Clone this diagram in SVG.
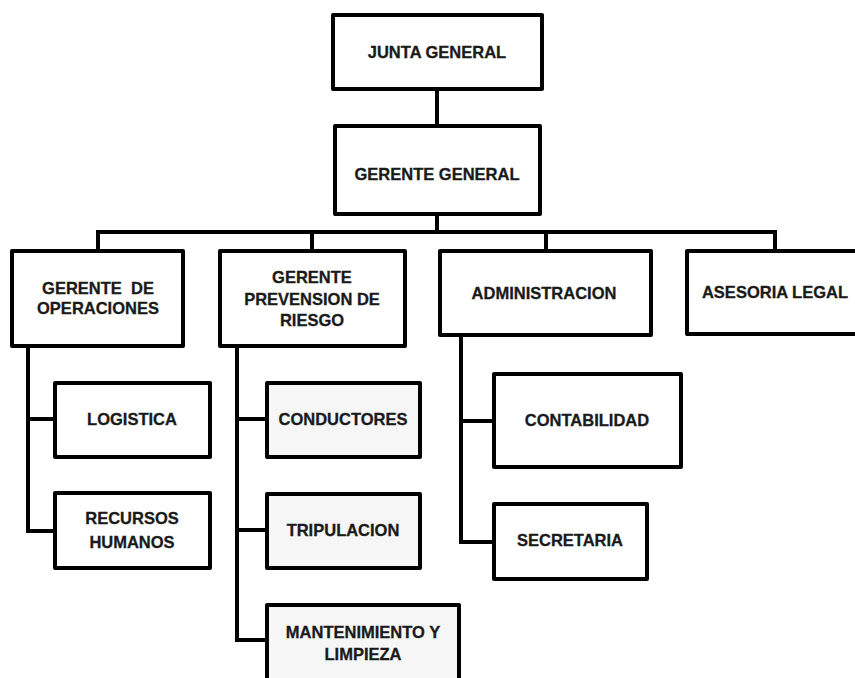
<svg xmlns="http://www.w3.org/2000/svg" width="855" height="678" viewBox="0 0 855 678">
<style>
.box{fill:#ffffff;stroke:#000;stroke-width:4;stroke-linejoin:round}
.gray{fill:#f6f6f6}
.t{font-family:"Liberation Sans",Arial,sans-serif;font-weight:bold;font-size:16.5px;fill:#1a1a1a;stroke:#1a1a1a;stroke-width:0.3;text-anchor:middle;dominant-baseline:central}
.c{fill:none;stroke:#000;stroke-width:4;stroke-linejoin:miter}
</style>
<rect width="855" height="678" fill="#ffffff"/>
<g id="connectors">
<path class="c" d="M437,89 V126"/>
<path class="c" d="M437,214 V232"/>
<path class="c" d="M98,251 V232 H775 V251"/>
<path class="c" d="M312,232 V251"/>
<path class="c" d="M546,232 V251"/>
<path class="c" d="M28,346 V531 H55 M28,419 H55"/>
<path class="c" d="M237,346 V640 H267 M237,419 H267 M237,530 H267"/>
<path class="c" d="M461,335 V542 H494 M461,421 H494"/>
</g>
<g id="junta">
<rect class="box" x="333" y="15" width="209" height="74"/>
<text class="t" x="437" y="52">JUNTA GENERAL</text>
</g>
<g id="gerente-general">
<rect class="box" x="335" y="126" width="205" height="88"/>
<text class="t" x="437" y="174">GERENTE GENERAL</text>
</g>
<g id="gerente-operaciones">
<rect class="box" x="12" y="251" width="171" height="95"/>
<text class="t" x="98" y="288" xml:space="preserve">GERENTE  DE</text>
<text class="t" x="98" y="308">OPERACIONES</text>
</g>
<g id="gerente-prevension">
<rect class="box" x="220" y="251" width="185" height="95"/>
<text class="t" x="312" y="277">GERENTE</text>
<text class="t" x="312" y="299">PREVENSION DE</text>
<text class="t" x="312" y="320">RIESGO</text>
</g>
<g id="administracion">
<rect class="box" x="440" y="251" width="211" height="84"/>
<text class="t" x="544" y="293">ADMINISTRACION</text>
</g>
<g id="asesoria-legal">
<rect class="box" x="687" y="251" width="177" height="83"/>
<text class="t" x="775" y="292">ASESORIA LEGAL</text>
</g>
<g id="logistica">
<rect class="box" x="55" y="383" width="155" height="74"/>
<text class="t" x="132" y="419">LOGISTICA</text>
</g>
<g id="recursos-humanos">
<rect class="box" x="55" y="493" width="155" height="75"/>
<text class="t" x="132" y="518">RECURSOS</text>
<text class="t" x="132" y="542">HUMANOS</text>
</g>
<g id="conductores">
<rect class="box gray" x="267" y="383" width="153" height="74"/>
<text class="t" x="343" y="419">CONDUCTORES</text>
</g>
<g id="tripulacion">
<rect class="box gray" x="267" y="494" width="153" height="74"/>
<text class="t" x="343" y="530">TRIPULACION</text>
</g>
<g id="mantenimiento">
<rect class="box gray" x="267" y="605" width="192" height="100"/>
<text class="t" x="363" y="632">MANTENIMIENTO Y</text>
<text class="t" x="363" y="654">LIMPIEZA</text>
</g>
<g id="contabilidad">
<rect class="box" x="494" y="374" width="187" height="93"/>
<text class="t" x="587" y="420">CONTABILIDAD</text>
</g>
<g id="secretaria">
<rect class="box" x="494" y="504" width="153" height="75"/>
<text class="t" x="570" y="540">SECRETARIA</text>
</g>
</svg>
